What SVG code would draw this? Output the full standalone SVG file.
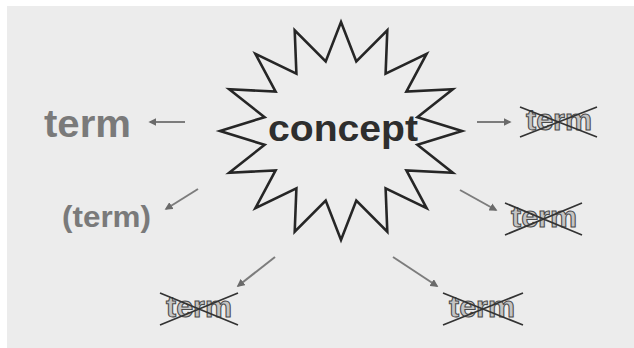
<svg xmlns="http://www.w3.org/2000/svg" width="634" height="348" viewBox="0 0 634 348">
  <defs>
    <style>
      .bg { fill: #ffffff; }
      .panel { fill: #ececec; }
      .star { fill: #ededed; stroke: #262626; stroke-width: 2.6; stroke-linejoin: miter; }
      .concept { font-family: "Liberation Sans", Arial, sans-serif; font-weight: bold; font-size: 37px; fill: #2e2e2e; }
      .term { font-family: "Liberation Sans", Arial, sans-serif; font-weight: bold; fill: #7a7a7a; }
      .struck { font-family: "Liberation Sans", Arial, sans-serif; font-weight: bold; font-size: 29px; fill: #c4c4c4; stroke: #4a4a4a; stroke-width: 1; }
      .cross { stroke: #333333; stroke-width: 1.7; fill: none; }
      .link { stroke: #7c7c7c; stroke-width: 2; fill: none; marker-end: url(#head); }
    </style>
    <marker id="head" viewBox="0 0 10 10" refX="8" refY="5" markerWidth="4" markerHeight="4" orient="auto">
      <path d="M0,0 L10,5 L0,10 z" fill="#6a6a6a"/>
    </marker>
  </defs>

  <rect class="bg" x="0" y="0" width="634" height="348"/>
  <rect class="panel" x="7" y="6" width="627" height="342"/>

  <!-- central concept: 16-point burst -->
  <g id="concept">
    <polygon class="star" points="341.0,22.0 356.3,61.5 387.3,30.3 385.6,73.6 426.6,53.9 406.4,91.6 452.8,89.3 417.4,117.2 462.0,131.0 417.4,144.8 452.8,172.7 406.4,170.4 426.6,208.1 385.6,188.4 387.3,231.7 356.3,200.5 341.0,240.0 325.7,200.5 294.7,231.7 296.4,188.4 255.4,208.1 275.6,170.4 229.2,172.7 264.6,144.8 220.0,131.0 264.6,117.2 229.2,89.3 275.6,91.6 255.4,53.9 296.4,73.6 294.7,30.3 325.7,61.5"/>
    <text class="concept" x="343" y="141" text-anchor="middle" textLength="150" lengthAdjust="spacingAndGlyphs">concept</text>
  </g>

  <!-- accepted names -->
  <g id="term-main">
    <text class="term" x="44" y="137" font-size="38" textLength="87" lengthAdjust="spacingAndGlyphs">term</text>
  </g>
  <g id="term-alt">
    <text class="term" x="62" y="227" font-size="29" textLength="89" lengthAdjust="spacingAndGlyphs">(term)</text>
  </g>

  <!-- rejected names -->
  <g id="rejected-1">
    <text class="struck" x="526" y="130" textLength="66" lengthAdjust="spacingAndGlyphs">term</text>
    <path class="cross" d="M520,107 L597,137 M520,137 L597,107"/>
  </g>
  <g id="rejected-2">
    <text class="struck" x="511" y="227" textLength="66" lengthAdjust="spacingAndGlyphs">term</text>
    <path class="cross" d="M505,203 L582,235 M505,235 L582,203"/>
  </g>
  <g id="rejected-3">
    <text class="struck" x="166" y="317" textLength="66" lengthAdjust="spacingAndGlyphs">term</text>
    <path class="cross" d="M160,293 L238,325 M160,325 L238,293"/>
  </g>
  <g id="rejected-4">
    <text class="struck" x="449" y="317" textLength="66" lengthAdjust="spacingAndGlyphs">term</text>
    <path class="cross" d="M443,293 L523,325 M443,325 L523,293"/>
  </g>

  <!-- connectors -->
  <g id="connectors">
    <line class="link" x1="185" y1="122" x2="150" y2="122"/>
    <line class="link" x1="198" y1="189" x2="166" y2="209"/>
    <line class="link" x1="477" y1="122" x2="510" y2="122"/>
    <line class="link" x1="460" y1="190" x2="496" y2="210"/>
    <line class="link" x1="275" y1="257" x2="238" y2="286"/>
    <line class="link" x1="393" y1="257" x2="437" y2="286"/>
  </g>
</svg>
